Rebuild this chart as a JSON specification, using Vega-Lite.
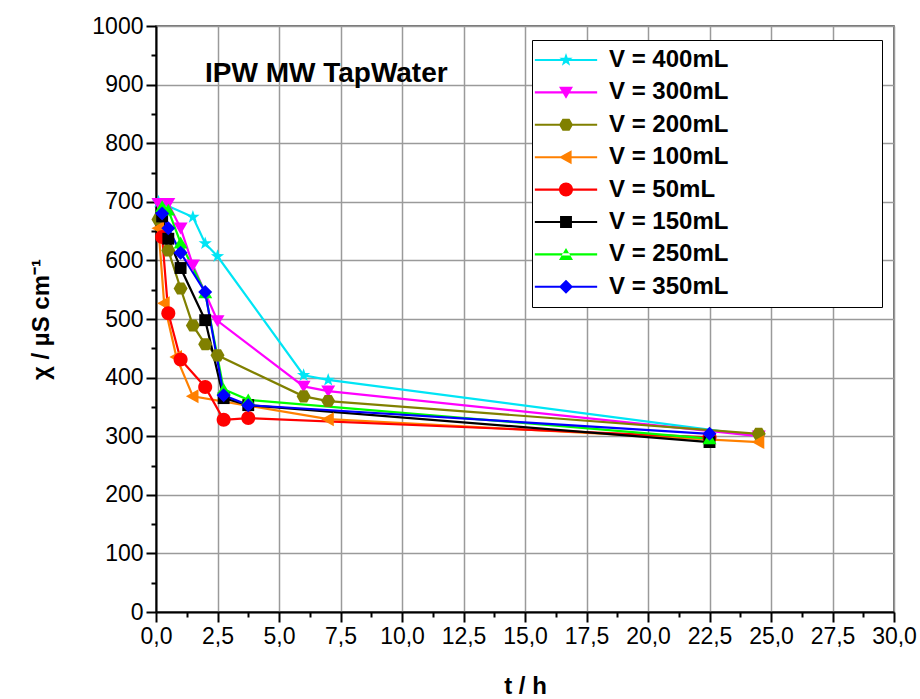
{
  "$schema": "https://vega.github.io/schema/vega-lite/v6.json",
  "width": 738,
  "height": 586,
  "autosize": "none",
  "padding": {"left": 156, "top": 26, "right": 26, "bottom": 87},
  "background": "white",
  "title": {"text": "IPW MW TapWater", "anchor": "start", "frame": "group", "orient": "top", "offset": 0, "dx": 49, "dy": 87, "baseline": "middle", "fontSize": 28, "fontWeight": "bold", "font": "Liberation Sans", "color": "black"},
  "config": {
    "view": {"stroke": "#444444", "strokeWidth": 1.5},
    "font": "Liberation Sans",
    "axis": {"domainColor": "black", "domainWidth": 2, "tickColor": "black", "tickWidth": 2, "labelColor": "black", "labelFont": "Liberation Sans", "labelFontSize": 23, "titleColor": "black", "titleFont": "Liberation Sans", "titleFontSize": 24, "titleFontWeight": "bold", "gridWidth": 1.5, "labelOverlap": false, "labelFlush": false}
  },
  "data": {"values": [
    {"s": "V = 400mL", "t": 0.1, "chi": 700},
    {"s": "V = 400mL", "t": 1.5, "chi": 674},
    {"s": "V = 400mL", "t": 2.0, "chi": 629},
    {"s": "V = 400mL", "t": 2.5, "chi": 607},
    {"s": "V = 400mL", "t": 6.0, "chi": 404},
    {"s": "V = 400mL", "t": 7.0, "chi": 396},
    {"s": "V = 400mL", "t": 24.5, "chi": 300},
    {"s": "V = 300mL", "t": 0.1, "chi": 697},
    {"s": "V = 300mL", "t": 0.5, "chi": 697},
    {"s": "V = 300mL", "t": 1.0, "chi": 655},
    {"s": "V = 300mL", "t": 1.5, "chi": 592},
    {"s": "V = 300mL", "t": 2.5, "chi": 497},
    {"s": "V = 300mL", "t": 6.0, "chi": 385},
    {"s": "V = 300mL", "t": 7.0, "chi": 377},
    {"s": "V = 300mL", "t": 24.5, "chi": 300},
    {"s": "V = 200mL", "t": 0.1, "chi": 670},
    {"s": "V = 200mL", "t": 0.5, "chi": 617},
    {"s": "V = 200mL", "t": 1.0, "chi": 552},
    {"s": "V = 200mL", "t": 1.5, "chi": 489},
    {"s": "V = 200mL", "t": 2.0, "chi": 457},
    {"s": "V = 200mL", "t": 2.5, "chi": 438},
    {"s": "V = 200mL", "t": 6.0, "chi": 368},
    {"s": "V = 200mL", "t": 7.0, "chi": 360},
    {"s": "V = 200mL", "t": 24.5, "chi": 304},
    {"s": "V = 100mL", "t": 0.1, "chi": 655},
    {"s": "V = 100mL", "t": 0.33, "chi": 527},
    {"s": "V = 100mL", "t": 0.83, "chi": 435},
    {"s": "V = 100mL", "t": 1.5, "chi": 368},
    {"s": "V = 100mL", "t": 7.0, "chi": 329},
    {"s": "V = 100mL", "t": 24.5, "chi": 290},
    {"s": "V = 50mL", "t": 0.25, "chi": 640},
    {"s": "V = 50mL", "t": 0.5, "chi": 510},
    {"s": "V = 50mL", "t": 1.0, "chi": 431},
    {"s": "V = 50mL", "t": 2.0, "chi": 384},
    {"s": "V = 50mL", "t": 2.75, "chi": 328},
    {"s": "V = 50mL", "t": 3.75, "chi": 331},
    {"s": "V = 50mL", "t": 22.5, "chi": 298},
    {"s": "V = 150mL", "t": 0.25, "chi": 675},
    {"s": "V = 150mL", "t": 0.5, "chi": 637},
    {"s": "V = 150mL", "t": 1.0, "chi": 587},
    {"s": "V = 150mL", "t": 2.0, "chi": 498},
    {"s": "V = 150mL", "t": 2.75, "chi": 365},
    {"s": "V = 150mL", "t": 3.75, "chi": 353},
    {"s": "V = 150mL", "t": 22.5, "chi": 290},
    {"s": "V = 250mL", "t": 0.25, "chi": 692},
    {"s": "V = 250mL", "t": 0.5, "chi": 686},
    {"s": "V = 250mL", "t": 1.0, "chi": 630},
    {"s": "V = 250mL", "t": 2.0, "chi": 545},
    {"s": "V = 250mL", "t": 2.75, "chi": 380},
    {"s": "V = 250mL", "t": 3.75, "chi": 362},
    {"s": "V = 250mL", "t": 22.5, "chi": 296},
    {"s": "V = 350mL", "t": 0.25, "chi": 680},
    {"s": "V = 350mL", "t": 0.5, "chi": 655},
    {"s": "V = 350mL", "t": 1.0, "chi": 613},
    {"s": "V = 350mL", "t": 2.0, "chi": 546},
    {"s": "V = 350mL", "t": 2.75, "chi": 370},
    {"s": "V = 350mL", "t": 3.75, "chi": 353},
    {"s": "V = 350mL", "t": 22.5, "chi": 304}
  ]},
  "encoding": {
    "x": {"field": "t", "type": "quantitative", "scale": {"domain": [0, 30], "nice": false},
      "axis": {"title": "t / h", "values": [0,1.25,2.5,3.75,5,6.25,7.5,8.75,10,11.25,12.5,13.75,15,16.25,17.5,18.75,20,21.25,22.5,23.75,25,26.25,27.5,28.75,30],
        "labelExpr": "datum.value % 2.5 === 0 ? replace(format(datum.value, '.1f'), '.', ',') : ''",
        "tickSize": {"condition": {"test": "datum.value % 2.5 !== 0", "value": 5}, "value": 10},
        "gridColor": {"condition": {"test": "datum.value % 2.5 !== 0", "value": "transparent"}, "value": "#9a9a9a"},
        "labelPadding": 3, "titlePadding": 26}},
    "y": {"field": "chi", "type": "quantitative", "scale": {"domain": [0, 1000], "nice": false},
      "axis": {"title": "χ / µS cm⁻¹", "values": [0,50,100,150,200,250,300,350,400,450,500,550,600,650,700,750,800,850,900,950,1000],
        "labelExpr": "datum.value % 100 === 0 ? format(datum.value, 'd') : ''",
        "tickSize": {"condition": {"test": "datum.value % 100 !== 0", "value": 5}, "value": 10},
        "gridColor": {"condition": {"test": "datum.value % 100 !== 0", "value": "transparent"}, "value": "#9a9a9a"},
        "labelPadding": 3, "titlePadding": 38}}
  },
  "resolve": {"scale": {"color": "independent", "shape": "independent"}},
  "layer": [
    {"mark": {"type": "line", "strokeWidth": 2.2},
     "encoding": {"color": {"field": "s", "type": "nominal", "legend": null,
       "scale": {"domain": ["V = 400mL","V = 300mL","V = 200mL","V = 100mL","V = 50mL","V = 150mL","V = 250mL","V = 350mL"],
        "range": ["#00e5f5","#ff00ff","#808000","#ff8000","#ff0000","#000000","#00ff00","#0000ff"]}}}},
    {"mark": {"type": "point", "filled": true, "opacity": 1, "size": 196},
     "encoding": {
       "color": {"field": "s", "type": "nominal", "legend": null,
         "scale": {"domain": ["V = 400mL","V = 300mL","V = 200mL","V = 100mL","V = 50mL","V = 150mL","V = 250mL","V = 350mL"],
          "range": ["#00e5f5","#ff00ff","#808000","#ff8000","#ff0000","#000000","#00ff00","#0000ff"]}},
       "shape": {"field": "s", "type": "nominal", "legend": null,
         "scale": {"domain": ["V = 400mL","V = 300mL","V = 200mL","V = 100mL","V = 50mL","V = 150mL","V = 250mL","V = 350mL"],
           "range": [
             "M0,-1L0.235,-0.324L0.951,-0.309L0.38,0.124L0.588,0.809L0,0.4L-0.588,0.809L-0.38,0.124L-0.951,-0.309L-0.235,-0.324Z",
             "M-1,-0.8L1,-0.8L0,0.9Z",
             "M-0.5,-0.866L0.5,-0.866L1,0L0.5,0.866L-0.5,0.866L-1,0Z",
             "M-1,0L0.8,-1L0.8,1Z",
             "M-1,0A1,1,0,1,1,1,0A1,1,0,1,1,-1,0Z",
             "M-0.85,-0.85H0.85V0.85H-0.85Z",
             "M-1,0.8L1,0.8L0,-0.9Z",
             "M0,-1L1,0L0,1L-1,0Z"]}}
     }},
    {"mark": {"type": "point", "filled": true, "opacity": 0, "size": 196},
     "encoding": {
       "color": {"field": "s", "type": "nominal",
         "scale": {"domain": ["V = 400mL","V = 300mL","V = 200mL","V = 100mL","V = 50mL","V = 150mL","V = 250mL","V = 350mL"],
          "range": ["#00e5f5","#ff00ff","#808000","#ff8000","#ff0000","#000000","#00ff00","#0000ff"]},
         "legend": {"title": null, "orient": "none", "legendX": 376, "legendY": 14,
           "strokeColor": "black", "fillColor": "white", "padding": 8, "rowPadding": 8.4,
           "symbolSize": 196, "symbolStrokeWidth": 0, "symbolOpacity": 1, "symbolOffset": 14, "labelOffset": 31,
           "labelFont": "Liberation Sans", "labelFontSize": 24, "labelFontWeight": "bold", "labelColor": "black", "labelLimit": 500,
           "labelExpr": "datum.label + '\u00a0\u00a0\u00a0\u00a0\u00a0\u00a0\u00a0\u00a0\u00a0\u00a0\u00a0\u00a0\u00a0\u00a0\u00a0\u00a0\u00a0\u00a0\u00a0\u2800'"}},
       "shape": {"field": "s", "type": "nominal",
         "scale": {"domain": ["V = 400mL","V = 300mL","V = 200mL","V = 100mL","V = 50mL","V = 150mL","V = 250mL","V = 350mL"],
           "range": [
             "M-4.45,-0.15H4.45V0.15H-4.45ZM0,-1L0.235,-0.324L0.951,-0.309L0.38,0.124L0.588,0.809L0,0.4L-0.588,0.809L-0.38,0.124L-0.951,-0.309L-0.235,-0.324Z",
             "M-4.45,-0.15H4.45V0.15H-4.45ZM-1,-0.8L1,-0.8L0,0.9Z",
             "M-4.45,-0.15H4.45V0.15H-4.45ZM-0.5,-0.866L0.5,-0.866L1,0L0.5,0.866L-0.5,0.866L-1,0Z",
             "M-4.45,-0.15H4.45V0.15H-4.45ZM-1,0L0.8,-1L0.8,1Z",
             "M-4.45,-0.15H4.45V0.15H-4.45ZM-1,0A1,1,0,1,1,1,0A1,1,0,1,1,-1,0Z",
             "M-4.45,-0.15H4.45V0.15H-4.45ZM-0.85,-0.85H0.85V0.85H-0.85Z",
             "M-4.45,-0.15H4.45V0.15H-4.45ZM-1,0.8L1,0.8L0,-0.9Z",
             "M-4.45,-0.15H4.45V0.15H-4.45ZM0,-1L1,0L0,1L-1,0Z"]},
         "legend": {"title": null, "orient": "none", "legendX": 376, "legendY": 14,
           "strokeColor": "black", "fillColor": "white", "padding": 8, "rowPadding": 8.4,
           "symbolSize": 196, "symbolStrokeWidth": 0, "symbolOpacity": 1, "symbolOffset": 14, "labelOffset": 31,
           "labelFont": "Liberation Sans", "labelFontSize": 24, "labelFontWeight": "bold", "labelColor": "black", "labelLimit": 500,
           "labelExpr": "datum.label + '\u00a0\u00a0\u00a0\u00a0\u00a0\u00a0\u00a0\u00a0\u00a0\u00a0\u00a0\u00a0\u00a0\u00a0\u00a0\u00a0\u00a0\u00a0\u00a0\u2800'"}}
     }}
  ]
}
